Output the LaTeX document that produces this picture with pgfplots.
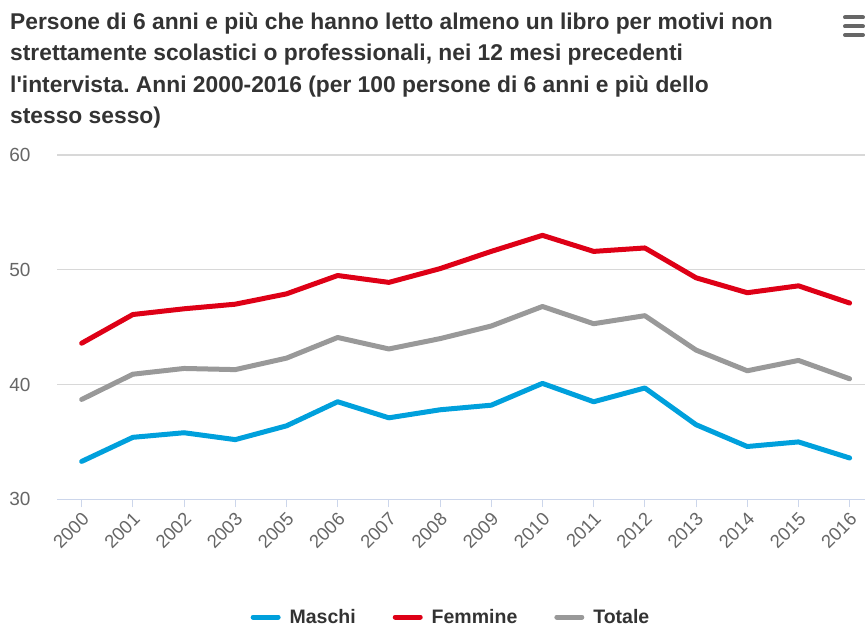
\documentclass[border=0pt]{standalone}
\usepackage{fontspec}
\setmainfont{Liberation Sans}[Ligatures=TeXOff]
\usepackage{pgfplots}
\pgfplotsset{compat=1.18}
\definecolor{cblue}{RGB}{0,160,220}
\definecolor{cred}{RGB}{222,0,22}
\definecolor{cgray}{RGB}{153,153,153}
\definecolor{gridc}{RGB}{216,216,216}
\definecolor{axisc}{RGB}{204,214,235}
\definecolor{ticklab}{RGB}{102,102,102}
\definecolor{titlec}{RGB}{51,51,51}
\begin{document}
\frenchspacing
\begin{tikzpicture}
\useasboundingbox (-57bp,-126.7bp) rectangle (808bp,499.3bp);
\node[anchor=north west, inner sep=0pt, align=left, text=titlec, font=\fontsize{22.8bp}{31.5bp}\selectfont\bfseries] at (-47bp,487bp) {Persone di 6 anni e più che hanno letto almeno un libro per motivi non\\strettamente scolastici o professionali, nei 12 mesi precedenti\\l'intervista. Anni 2000-2016 (per 100 persone di 6 anni e più dello\\stesso sesso)};
\foreach \yy in {481.8,472.8,464.3} {
  \draw[ticklab, line width=4bp, line cap=round] (788bp,\yy bp) -- (806bp,\yy bp);
}
\begin{axis}[
  at={(0bp,0bp)}, anchor=south west,
  scale only axis, width=808bp, height=344.3bp,
  xmin=-0.482, xmax=15.3, ymin=30, ymax=60,
  xtick={0,...,15},
  xticklabels={2000,2001,2002,2003,2005,2006,2007,2008,2009,2010,2011,2012,2013,2014,2015,2016},
  ytick={30,40,50,60},
  xtick pos=lower, ytick pos=left,
  ymajorgrids, grid style={gridc, line width=1.3bp},
  axis line style={draw=none},
  tick align=outside, major tick length=8bp,
  xtick style={draw=axisc, line width=1bp},
  ytick style={draw=none},
  x tick label style={rotate=45, anchor=east, font=\fontsize{18.5bp}{20bp}\selectfont, text=ticklab, yshift=-9bp},
  y tick label style={font=\fontsize{19bp}{20bp}\selectfont, text=ticklab, xshift=-15bp},
  /pgf/number format/assume math mode=true,
  legend columns=3,
  legend style={at={(0.4876,-0.3419)}, anchor=center, draw=none, fill=none,
    font=\fontsize{19.5bp}{21bp}\selectfont\bfseries, text=titlec,
    /tikz/every even column/.append style={column sep=35bp}},
  legend image code/.code={\draw[#1, line width=5bp, line cap=round] (0bp,0bp) -- (25bp,0bp); \path (32bp,0bp);},
  after end axis/.code={\draw[axisc, line width=1.5bp] (rel axis cs:0,0) -- (rel axis cs:1,0);},
]
\addplot[cblue, line width=5bp, line join=round, line cap=round] coordinates {(0,33.3)(1,35.4)(2,35.8)(3,35.2)(4,36.4)(5,38.5)(6,37.1)(7,37.8)(8,38.2)(9,40.1)(10,38.5)(11,39.7)(12,36.5)(13,34.6)(14,35.0)(15,33.6)};
\addlegendentry{Maschi}
\addplot[cred, line width=5bp, line join=round, line cap=round] coordinates {(0,43.6)(1,46.1)(2,46.6)(3,47.0)(4,47.9)(5,49.5)(6,48.9)(7,50.1)(8,51.6)(9,53.0)(10,51.6)(11,51.9)(12,49.3)(13,48.0)(14,48.6)(15,47.1)};
\addlegendentry{Femmine}
\addplot[cgray, line width=5bp, line join=round, line cap=round] coordinates {(0,38.7)(1,40.9)(2,41.4)(3,41.3)(4,42.3)(5,44.1)(6,43.1)(7,44.0)(8,45.1)(9,46.8)(10,45.3)(11,46.0)(12,43.0)(13,41.2)(14,42.1)(15,40.5)};
\addlegendentry{Totale}
\end{axis}
\end{tikzpicture}
\end{document}
